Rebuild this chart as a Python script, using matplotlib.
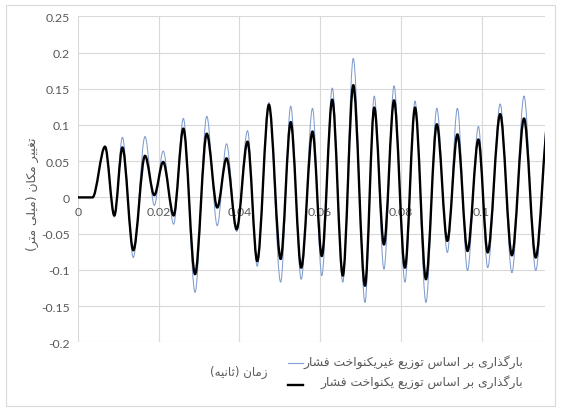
import matplotlib
matplotlib.use("Agg")
import matplotlib.pyplot as plt
from matplotlib.path import Path
from matplotlib.patches import PathPatch, Rectangle
from matplotlib.lines import Line2D

# extrema of the two displacement curves (time in s, displacement in mm)
times = [0.0, 0.0036, 0.0067, 0.0090, 0.0110, 0.0137, 0.0166, 0.0189, 0.0211, 0.0237,
         0.0261, 0.0290, 0.0319, 0.0345, 0.0368, 0.0393, 0.0420, 0.0444, 0.0473, 0.0502,
         0.0527, 0.0553, 0.0581, 0.0604, 0.0630, 0.0656, 0.0682, 0.0711, 0.0734, 0.0758,
         0.0783, 0.0810, 0.0835, 0.0862, 0.0889, 0.0915, 0.0940, 0.0965, 0.0992, 0.1015,
         0.1046, 0.1075, 0.1105, 0.1134, 0.1166]
uniform = [0.0, 0.0, 0.070, -0.025, 0.069, -0.073, 0.0575, 0.003, 0.049, -0.025,
           0.095, -0.106, 0.088, -0.014, 0.054, -0.044, 0.077, -0.088, 0.128, -0.085,
           0.104, -0.097, 0.091, -0.081, 0.135, -0.108, 0.155, -0.122, 0.124, -0.065,
           0.134, -0.097, 0.124, -0.113, 0.101, -0.060, 0.087, -0.074, 0.080, -0.076,
           0.115, -0.080, 0.109, -0.083, 0.110]
nonuniform = [0.0, 0.0, 0.071, -0.027, 0.083, -0.083, 0.084, -0.011, 0.064, -0.037,
              0.109, -0.131, 0.112, -0.039, 0.074, -0.047, 0.092, -0.095, 0.131, -0.117,
              0.126, -0.113, 0.123, -0.108, 0.151, -0.117, 0.192, -0.145, 0.140, -0.099,
              0.154, -0.117, 0.133, -0.145, 0.123, -0.076, 0.123, -0.101, 0.098, -0.097,
              0.129, -0.104, 0.140, -0.101, 0.125]

x_ticks = [0, 0.02, 0.04, 0.06, 0.08, 0.1]
x_labels = ["0", "0.02", "0.04", "0.06", "0.08", "0.1"]
y_ticks = [0.25, 0.2, 0.15, 0.1, 0.05, 0, -0.05, -0.1, -0.15, -0.2]
y_labels = ["0.25", "0.2", "0.15", "0.1", "0.05", "0", "-0.05", "-0.1", "-0.15", "-0.2"]

y_title = "تغییر مکان (میلی متر)"
x_title = "زمان (ثانیه)"
label_nonuniform = "بارگذاری بر اساس توزیع غیریکنواخت فشار"
label_uniform = "بارگذاری بر اساس توزیع یکنواخت فشار"

# contextual forms: isolated, final, initial, medial
FORMS = {
    "ا": (0xFE8D, 0xFE8E, 0xFE8D, 0xFE8E),
    "ب": (0xFE8F, 0xFE90, 0xFE91, 0xFE92),
    "ت": (0xFE95, 0xFE96, 0xFE97, 0xFE98),
    "ث": (0xFE99, 0xFE9A, 0xFE9B, 0xFE9C),
    "خ": (0xFEA5, 0xFEA6, 0xFEA7, 0xFEA8),
    "ذ": (0xFEAB, 0xFEAC, 0xFEAB, 0xFEAC),
    "ر": (0xFEAD, 0xFEAE, 0xFEAD, 0xFEAE),
    "ز": (0xFEAF, 0xFEB0, 0xFEAF, 0xFEB0),
    "س": (0xFEB1, 0xFEB2, 0xFEB3, 0xFEB4),
    "ش": (0xFEB5, 0xFEB6, 0xFEB7, 0xFEB8),
    "ع": (0xFEC9, 0xFECA, 0xFECB, 0xFECC),
    "غ": (0xFECD, 0xFECE, 0xFECF, 0xFED0),
    "ف": (0xFED1, 0xFED2, 0xFED3, 0xFED4),
    "ل": (0xFEDD, 0xFEDE, 0xFEDF, 0xFEE0),
    "م": (0xFEE1, 0xFEE2, 0xFEE3, 0xFEE4),
    "ن": (0xFEE5, 0xFEE6, 0xFEE7, 0xFEE8),
    "ه": (0xFEE9, 0xFEEA, 0xFEEB, 0xFEEC),
    "و": (0xFEED, 0xFEEE, 0xFEED, 0xFEEE),
    "ک": (0xFB8E, 0xFB8F, 0xFB90, 0xFB91),
    "گ": (0xFB92, 0xFB93, 0xFB94, 0xFB95),
    "ی": (0xFBFC, 0xFBFD, 0xFBFE, 0xFBFF),
}
NON_JOINING = set("اذرزو")
MIRROR = {"(": ")", ")": "("}


def shape(text):
    out = []
    for i, c in enumerate(text):
        if c not in FORMS:
            out.append(MIRROR.get(c, c))
            continue
        prev = text[i - 1] if i > 0 else ""
        nxt = text[i + 1] if i + 1 < len(text) else ""
        join_prev = prev in FORMS and prev not in NON_JOINING
        join_next = nxt in FORMS and c not in NON_JOINING
        iso, fin, ini, med = FORMS[c]
        if join_prev and join_next:
            code = med
        elif join_prev:
            code = fin
        elif join_next:
            code = ini
        else:
            code = iso
        out.append(chr(code))
    return "".join(reversed(out))


def smooth_path(ts, vs):
    verts = [(ts[0], vs[0])]
    codes = [Path.MOVETO]
    for t0, v0, t1, v1 in zip(ts[:-1], vs[:-1], ts[1:], vs[1:]):
        d = (t1 - t0) / 3
        verts += [(t0 + d, v0), (t1 - d, v1), (t1, v1)]
        codes += [Path.CURVE4] * 3
    return Path(verts, codes)


GRID = "#d9d9d9"
TEXT = "#595959"
BLUE = "#819dd0"
AR_FONT = "DejaVu Sans"

fig = plt.figure(figsize=(5.61, 4.10), dpi=100)
fig.patches.append(Rectangle((6 / 561, 3 / 410), 549 / 561, 401 / 410, transform=fig.transFigure,
                             fill=False, edgecolor=GRID, linewidth=0.8))
ax = fig.add_axes([78 / 561, 1 - 343.3 / 410, 467 / 561, 326 / 410])
ax.set_xlim(0, 0.1157)
ax.set_ylim(-0.2, 0.25)
for s in ax.spines.values():
    s.set_visible(False)
for yv in y_ticks:
    ax.axhline(yv, color=GRID, lw=0.8, zorder=0)
for xv in x_ticks:
    ax.axvline(xv, color=GRID, lw=0.8, zorder=0)

ax.add_patch(PathPatch(smooth_path(times, nonuniform), fill=False, edgecolor=BLUE, lw=0.75, zorder=2))
ax.add_patch(PathPatch(smooth_path(times, uniform), fill=False, edgecolor="black", lw=1.7,
                       joinstyle="round", zorder=3))

ax.set_xticks([])
ax.set_yticks(y_ticks)
ax.set_yticklabels(y_labels, fontsize=8.8, color=TEXT, family="Lato")
ax.tick_params(axis="y", length=0, pad=6)
for xv, lab in zip(x_ticks, x_labels):
    ax.annotate(lab, (xv, 0), xytext=(0, -10), textcoords="offset points", ha="center", va="center",
                fontsize=8.8, color=TEXT, family="Lato", zorder=1)

fig.text(32 / 561, 1 - 194 / 410, shape(y_title), rotation=90, ha="center", va="center",
         fontsize=8.9, color=TEXT, family=AR_FONT)
fig.text(268 / 561, 1 - 372 / 410, shape(x_title), ha="right", va="center",
         fontsize=8.5, color=TEXT, family=AR_FONT)
fig.text(523 / 561, 1 - 362 / 410, shape(label_nonuniform), ha="right", va="center",
         fontsize=8.9, color=TEXT, family=AR_FONT)
fig.text(523 / 561, 1 - 382 / 410, shape(label_uniform), ha="right", va="center",
         fontsize=8.9, color=TEXT, family=AR_FONT)
fig.lines.append(Line2D([288 / 561, 303 / 561], [1 - 363.5 / 410] * 2, transform=fig.transFigure,
                        color=BLUE, lw=0.8))
fig.lines.append(Line2D([288 / 561, 303 / 561], [1 - 385.5 / 410] * 2, transform=fig.transFigure,
                        color="black", lw=1.7))

fig.savefig("out.png", dpi=100)
